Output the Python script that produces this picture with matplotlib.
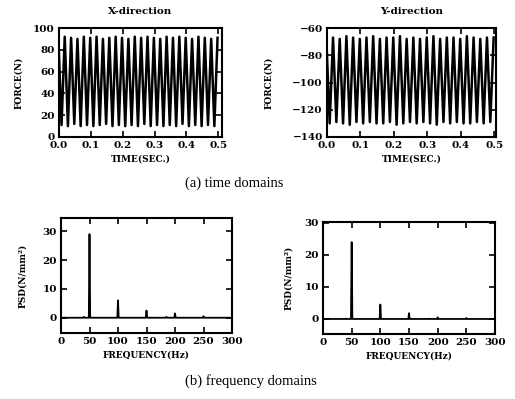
import numpy as np
import matplotlib
matplotlib.use("Agg")
import matplotlib.pyplot as plt

# ---------------- data ----------------
period = 0.02  # 50 Hz cycle
x_peaks = [91, 92, 91, 90, 92, 91, 92, 90, 91, 92, 91, 90, 92, 91, 92, 91,
           90, 92, 91, 92, 91, 90, 92, 91, 90, 91]
x_troughs = [10, 11, 10, 12, 10, 11, 10, 11, 12, 10, 11, 10, 11, 10, 12, 10,
             11, 10, 11, 10, 12, 10, 11, 10, 11, 10]
y_peaks = [-68, -67, -68, -66, -67, -68, -67, -66, -68, -67, -67, -66, -68,
           -67, -68, -67, -66, -68, -67, -67, -68, -66, -67, -68, -67, -67]
y_troughs = [-129, -130, -129, -130, -131, -129, -130, -129, -130, -130,
             -129, -131, -130, -129, -130, -129, -130, -131, -129, -130,
             -129, -130, -130, -129, -130, -129]

psd_freqs = [40, 50, 100, 150, 185, 200, 250]
psd_x = [0.3, 29, 6, 2.5, 0.3, 1.5, 0.5]
psd_y = [0.1, 24, 4.5, 1.8, 0.1, 0.5, 0.3]

x_ticks_t = [0.0, 0.1, 0.2, 0.3, 0.4, 0.5]
x_ticks_f = [0, 50, 100, 150, 200, 250, 300]

W, H = 515, 399
fig = plt.figure(figsize=(W / 100, H / 100), dpi=100)

tickfont = dict(family="DejaVu Serif", weight="bold", size=7.5)
labfont = dict(family="DejaVu Serif", weight="bold", size=6.5)
titfont = dict(family="DejaVu Serif", weight="bold", size=7.5)


def ax_at(l, t, r, b):
    return fig.add_axes([l / W, 1 - b / H, (r - l) / W, (b - t) / H])


def style(ax):
    for s in ax.spines.values():
        s.set_linewidth(1.5)
    ax.tick_params(direction="in", length=4, width=1.2, top=True, right=True,
                   pad=3)
    for lab in ax.get_xticklabels() + ax.get_yticklabels():
        lab.set_fontfamily(tickfont["family"])
        lab.set_fontweight(tickfont["weight"])
        lab.set_fontsize(tickfont["size"])


def zigzag(peaks, troughs):
    t, v = [], []
    for k, (p, q) in enumerate(zip(peaks, troughs)):
        t += [k * period, k * period + 0.5 * period]
        v += [q, p]
    return np.array(t) - 0.6 * period, np.array(v)


def spikes(freqs, vals):
    f, v = [0], [0]
    for fr, h in zip(freqs, vals):
        f += [fr - 1.2, fr, fr + 1.2]
        v += [0, h, 0]
    f.append(300)
    v.append(0)
    return f, v


# ---- time domain X ----
ax1 = ax_at(59, 28, 222, 137)
t, v = zigzag(x_peaks, x_troughs)
ax1.plot(t, v, color="black", lw=1.8)
ax1.set_xlim(0, 0.512)
ax1.set_ylim(0, 100)
ax1.set_xticks(x_ticks_t)
ax1.set_xticklabels([f"{x:.1f}" for x in x_ticks_t])
ax1.set_yticks([0, 20, 40, 60, 80, 100])
style(ax1)
ax1.set_title("X-direction", fontdict=titfont, pad=10)
ax1.set_xlabel("TIME(SEC.)", fontdict=labfont, labelpad=3)
ax1.set_ylabel("FORCE(N)", fontdict=labfont, labelpad=7)

# ---- time domain Y ----
ax2 = ax_at(327, 28, 496, 137)
t, v = zigzag(y_peaks, y_troughs)
ax2.plot(t, v, color="black", lw=1.8)
ax2.set_xlim(0, 0.505)
ax2.set_ylim(-140, -60)
ax2.set_xticks(x_ticks_t)
ax2.set_xticklabels([f"{x:.1f}" for x in x_ticks_t])
ax2.set_yticks([-140, -120, -100, -80, -60])
ax2.set_yticklabels(["\u2212140", "\u2212120", "\u2212100", "\u221280", "\u221260"])
style(ax2)
ax2.set_title("Y-direction", fontdict=titfont, pad=10)
ax2.set_xlabel("TIME(SEC.)", fontdict=labfont, labelpad=3)
ax2.set_ylabel("FORCE(N)", fontdict=labfont, labelpad=14)

# ---- PSD X ----
ax3 = ax_at(61, 218, 232, 333)
f, v = spikes(psd_freqs, psd_x)
ax3.plot(f, v, color="black", lw=1.3)
ax3.set_xlim(0, 300)
ax3.set_ylim(-5.3, 34.6)
ax3.set_xticks(x_ticks_f)
ax3.set_yticks([0, 10, 20, 30])
style(ax3)
ax3.set_xlabel("FREQUENCY(Hz)", fontdict=labfont, labelpad=3)
ax3.set_ylabel("PSD(N/mm\u00b2)", fontdict=labfont, labelpad=11)

# ---- PSD Y ----
ax4 = ax_at(323, 222, 495, 334)
f, v = spikes(psd_freqs, psd_y)
ax4.plot(f, v, color="black", lw=1.3)
ax4.set_xlim(0, 300)
ax4.set_ylim(-4.7, 30.3)
ax4.set_xticks(x_ticks_f)
ax4.set_yticks([0, 10, 20, 30])
style(ax4)
ax4.set_xlabel("FREQUENCY(Hz)", fontdict=labfont, labelpad=3)
ax4.set_ylabel("PSD(N/mm\u00b2)", fontdict=labfont, labelpad=8)

capfont = dict(family="Liberation Serif", size=10.5)
fig.text(185 / W, 1 - 183 / H, "(a) time domains", ha="left", va="center",
         **capfont)
fig.text(185 / W, 1 - 381 / H, "(b) frequency domains", ha="left",
         va="center", **capfont)

fig.savefig("out.png", dpi=100)
